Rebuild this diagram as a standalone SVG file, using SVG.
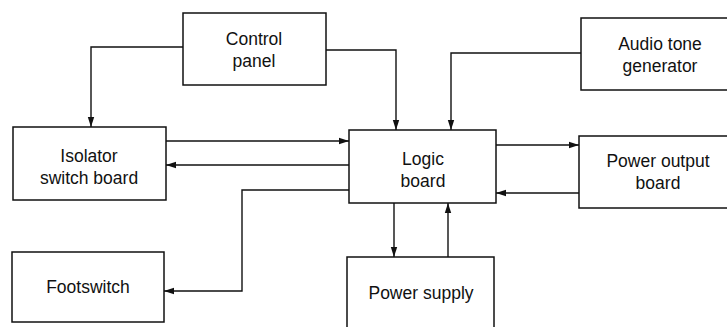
<svg xmlns="http://www.w3.org/2000/svg" width="727" height="327" viewBox="0 0 727 327">
<defs>
<marker id="ah" markerWidth="10" markerHeight="8" refX="10" refY="4" orient="auto" markerUnits="userSpaceOnUse">
<path d="M0,0.8 L10,4 L0,7.2 Z" fill="#111"/>
</marker>
<style>
.box{fill:#fff;stroke:#111;stroke-width:1.5}
.ln{fill:none;stroke:#111;stroke-width:1.4}
.t{font-family:"Liberation Sans",Arial,sans-serif;font-size:17.5px;fill:#111;text-anchor:middle}
</style>
</defs>
<rect width="727" height="327" fill="#fff"/>
<g id="connectors">
<polyline class="ln" points="183,47 91,47 91,127" marker-end="url(#ah)"/>
<polyline class="ln" points="326,50 396,50 396,130" marker-end="url(#ah)"/>
<polyline class="ln" points="581,53 451,53 451,130" marker-end="url(#ah)"/>
<line class="ln" x1="166" y1="141" x2="349" y2="141" marker-end="url(#ah)"/>
<line class="ln" x1="349" y1="165" x2="166" y2="165" marker-end="url(#ah)"/>
<polyline class="ln" points="349,190 242,190 242,291 164,291" marker-end="url(#ah)"/>
<line class="ln" x1="496" y1="145" x2="579" y2="145" marker-end="url(#ah)"/>
<line class="ln" x1="579" y1="193" x2="496" y2="193" marker-end="url(#ah)"/>
<line class="ln" x1="394" y1="203" x2="394" y2="257" marker-end="url(#ah)"/>
<line class="ln" x1="448" y1="257" x2="448" y2="203" marker-end="url(#ah)"/>
</g>
<g id="control-panel">
<rect class="box" x="183" y="13" width="143" height="72"/>
<text class="t" x="254" y="45">Control</text>
<text class="t" x="254" y="67">panel</text>
</g>
<g id="audio-tone-generator">
<rect class="box" x="581" y="18" width="160" height="72"/>
<text class="t" x="660" y="50">Audio tone</text>
<text class="t" x="660" y="72">generator</text>
</g>
<g id="isolator-switch-board">
<rect class="box" x="13" y="127" width="153" height="73"/>
<text class="t" x="89" y="162">Isolator</text>
<text class="t" x="89" y="184">switch board</text>
</g>
<g id="logic-board">
<rect class="box" x="349" y="130" width="147" height="73"/>
<text class="t" x="423" y="165">Logic</text>
<text class="t" x="423" y="187">board</text>
</g>
<g id="power-output-board">
<rect class="box" x="579" y="136" width="160" height="72"/>
<text class="t" x="658" y="167">Power output</text>
<text class="t" x="658" y="189">board</text>
</g>
<g id="footswitch">
<rect class="box" x="12" y="252" width="152" height="70"/>
<text class="t" x="88" y="293">Footswitch</text>
</g>
<g id="power-supply">
<rect class="box" x="347" y="257" width="147" height="85"/>
<text class="t" x="421" y="299">Power supply</text>
</g>
</svg>
